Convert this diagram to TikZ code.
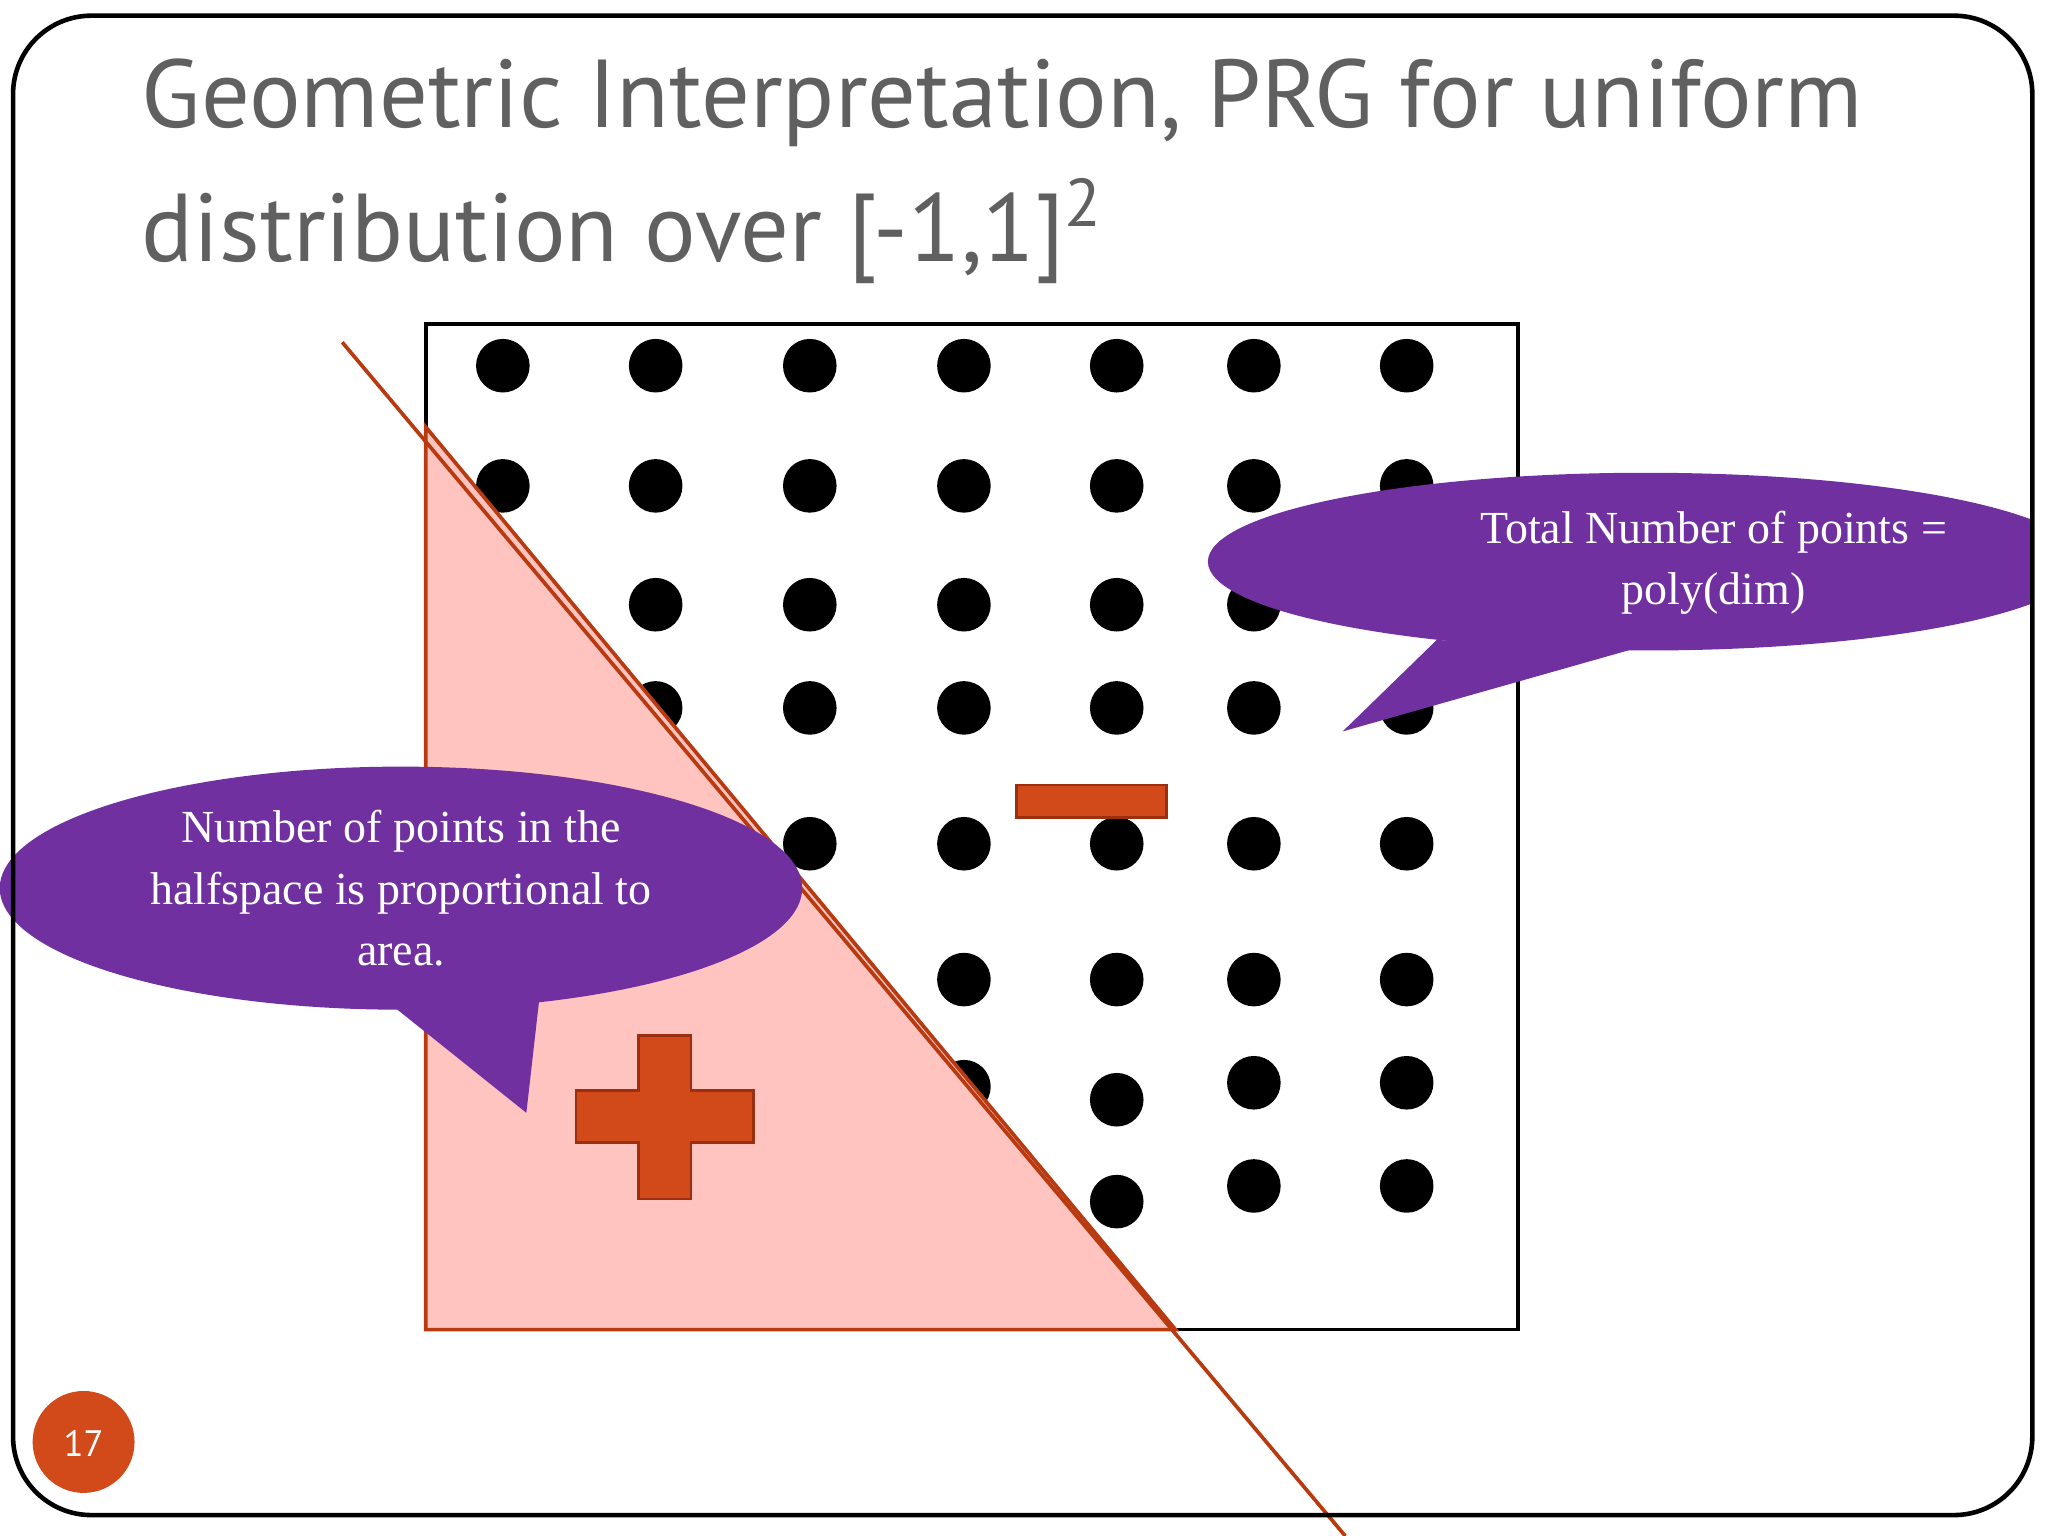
\documentclass[tikz,border=0pt]{standalone}
\usepackage{fontspec}
\setmainfont{Liberation Serif}
\setsansfont{PT Sans}
\begin{document}
\begin{tikzpicture}[x=0.01cm,y=-0.01cm,
  dot/.style={fill=black},
  callout/.style={fill=purp},
  sign/.style={fill=signc,draw=signd,line width=0.6pt},
  ctext/.style={text=white,font=\fontsize{10}{13.4}\selectfont,align=center}]
\definecolor{purp}{HTML}{7030A0}
\definecolor{signc}{HTML}{D24A1A}
\definecolor{signd}{HTML}{9A3010}
\definecolor{pinkc}{HTML}{FFC4C0}
\definecolor{linec}{HTML}{B83A10}
\definecolor{titlec}{HTML}{606060}
\useasboundingbox (0,0) rectangle (1568,1176);
\fill[white] (0,0) rectangle (1568,1176);
% title
\node[anchor=base west,text=titlec,font=\sffamily\fontsize{21}{26}\selectfont,inner sep=0] (t1) at (108,98) {Geometric Interpretation, PRG for uniform};
\node[anchor=base west,text=titlec,font=\sffamily\fontsize{21}{26}\selectfont,inner sep=0] (t2) at (108,200) {distribution over [-1,1]\textsuperscript{2}};
% box
\draw[line width=0.8pt] (326,248) rectangle (1162,1018);
% dots
\foreach \x in {385,502,620,738,855,960,1077}
  \foreach \y in {280,372,463,542,646,750}
    \fill[dot] (\x,\y) circle[radius=0.205cm];
\foreach \p in {(738,832),(855,842),(960,829),(1077,829),(855,920),(960,908),(1077,908)}
  \fill[dot] \p circle[radius=0.205cm];
% triangle
\fill[pinkc] (326,327) -- (326,1018) -- (900,1018) -- cycle;
\draw[linec,line width=0.8pt] (326,1018) -- (326,327) -- (900,1018) -- cycle;
\draw[linec,line width=0.8pt] (262,262) -- (1030,1176);
% minus and plus
\draw[sign] (778,601) rectangle (893,626);
\draw[sign] (489,793) -- (529,793) -- (529,835) -- (577,835) -- (577,875) -- (529,875) -- (529,918) -- (489,918) -- (489,875) -- (441,875) -- (441,835) -- (489,835) -- cycle;
% callouts
\begin{scope}
\clip[rounded corners=0.6cm] (10,12) rectangle (1556,1160);
\fill[callout] (1260,430) ellipse[x radius=3.35cm,y radius=0.68cm];
\fill[callout] (1100,490) -- (1028,560) -- (1250,497) -- cycle;
\end{scope}
\node[ctext] (c1) at (1312,431) {Total Number of points =\\poly(dim)};
\fill[callout] (307,680) ellipse[x radius=3.07cm,y radius=0.93cm];
\fill[callout] (298,768) -- (403,852) -- (413,764) -- cycle;
\node[ctext] (c2) at (307,680) {Number of points in the\\halfspace is proportional to\\area.};
% frame
\draw[line width=1pt,rounded corners=0.6cm] (10,12) rectangle (1556,1160);
% page number
\fill[signc] (64,1104) circle[radius=0.39cm];
\node[text=white,font=\sffamily\fontsize{8}{10}\selectfont] (pn) at (64,1105) {17};
\end{tikzpicture}
\end{document}
